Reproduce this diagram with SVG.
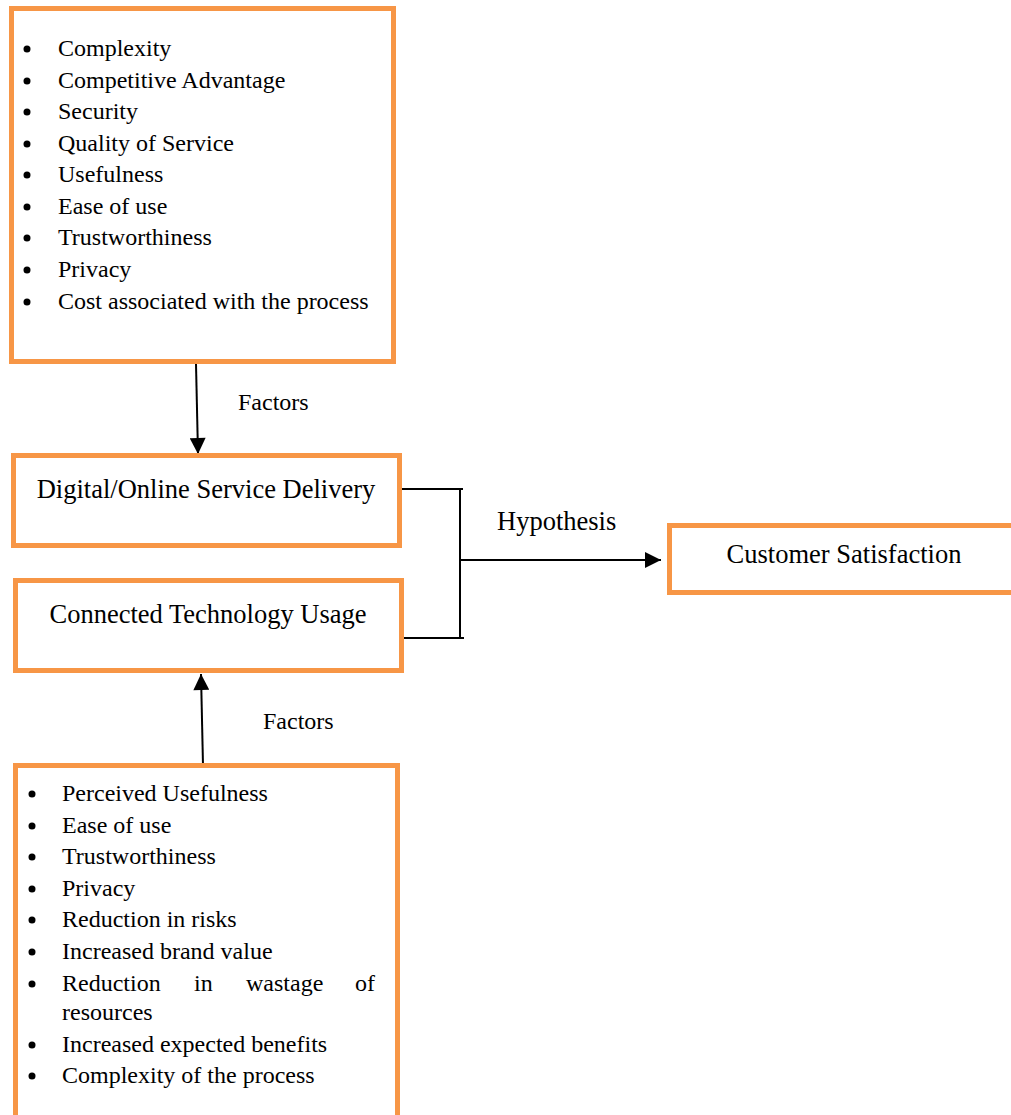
<svg xmlns="http://www.w3.org/2000/svg" width="1011" height="1115" viewBox="0 0 1011 1115">
<style>
.box{fill:#fff;stroke:#F79646;stroke-width:5}
.t{font-family:"Liberation Serif","Times New Roman",serif;fill:#000}
.li{font-size:24px}
.ti{font-size:26.5px}
.lb{font-size:24px}
.ln{stroke:#000;stroke-width:2;fill:none}
.dot{fill:#000}
</style>
<defs>
<marker id="ah2" viewBox="0 0 10 10" refX="10" refY="5" markerWidth="18" markerHeight="16" markerUnits="userSpaceOnUse" orient="auto">
<path d="M0,0 L10,5 L0,10 z" fill="#000"/>
</marker>
</defs>
<rect width="1011" height="1115" fill="#fff"/>

<g id="connectors">
<line class="ln" x1="196" y1="364" x2="198" y2="454" marker-end="url(#ah2)"/>
<line class="ln" x1="203" y1="765" x2="201" y2="674" marker-end="url(#ah2)"/>
<polyline class="ln" points="400,489 463,489"/>
<polyline class="ln" points="402,638 464,638"/>
<line class="ln" x1="460" y1="488" x2="460" y2="639"/>
<line class="ln" x1="460" y1="560" x2="661" y2="560" marker-end="url(#ah2)"/>
<text class="t lb" x="238" y="410">Factors</text>
<text class="t lb" x="263" y="729">Factors</text>
<text class="t ti" x="497" y="530">Hypothesis</text>
</g>

<g id="factors-top">
<rect class="box" x="11.5" y="8.5" width="382" height="353"/>
<g class="dot">
<circle cx="27" cy="49" r="3.5"/><circle cx="27" cy="81" r="3.5"/><circle cx="27" cy="112" r="3.5"/>
<circle cx="27" cy="144" r="3.5"/><circle cx="27" cy="175" r="3.5"/><circle cx="27" cy="207" r="3.5"/>
<circle cx="27" cy="238" r="3.5"/><circle cx="27" cy="270" r="3.5"/><circle cx="27" cy="302" r="3.5"/>
</g>
<g class="t li">
<text x="58" y="56">Complexity</text>
<text x="58" y="88">Competitive Advantage</text>
<text x="58" y="119">Security</text>
<text x="58" y="151">Quality of Service</text>
<text x="58" y="182">Usefulness</text>
<text x="58" y="214">Ease of use</text>
<text x="58" y="245">Trustworthiness</text>
<text x="58" y="277">Privacy</text>
<text x="58" y="309">Cost associated with the process</text>
</g>
</g>

<g id="digital-service">
<rect class="box" x="13.5" y="455.5" width="386" height="90"/>
<text class="t ti" x="206" y="498" text-anchor="middle">Digital/Online Service Delivery</text>
</g>

<g id="connected-tech">
<rect class="box" x="15.5" y="580.5" width="386" height="90"/>
<text class="t ti" x="208" y="623" text-anchor="middle">Connected Technology Usage</text>
</g>

<g id="customer-satisfaction">
<rect class="box" x="669.5" y="525.5" width="345" height="67"/>
<text class="t ti" x="844" y="563" text-anchor="middle">Customer Satisfaction</text>
</g>

<g id="factors-bottom">
<rect class="box" x="15.5" y="765.5" width="382" height="360"/>
<g class="dot">
<circle cx="32" cy="794" r="3.5"/><circle cx="32" cy="826" r="3.5"/><circle cx="32" cy="857" r="3.5"/>
<circle cx="32" cy="889" r="3.5"/><circle cx="32" cy="920" r="3.5"/><circle cx="32" cy="952" r="3.5"/>
<circle cx="32" cy="984" r="3.5"/><circle cx="32" cy="1045" r="3.5"/><circle cx="32" cy="1076" r="3.5"/>
</g>
<g class="t li">
<text x="62" y="801">Perceived Usefulness</text>
<text x="62" y="833">Ease of use</text>
<text x="62" y="864">Trustworthiness</text>
<text x="62" y="896">Privacy</text>
<text x="62" y="927">Reduction in risks</text>
<text x="62" y="959">Increased brand value</text>
<text x="62" y="991">Reduction</text>
<text x="194" y="991">in</text>
<text x="246" y="991">wastage</text>
<text x="375" y="991" text-anchor="end">of</text>
<text x="62" y="1020">resources</text>
<text x="62" y="1052">Increased expected benefits</text>
<text x="62" y="1083">Complexity of the process</text>
</g>
</g>
</svg>
